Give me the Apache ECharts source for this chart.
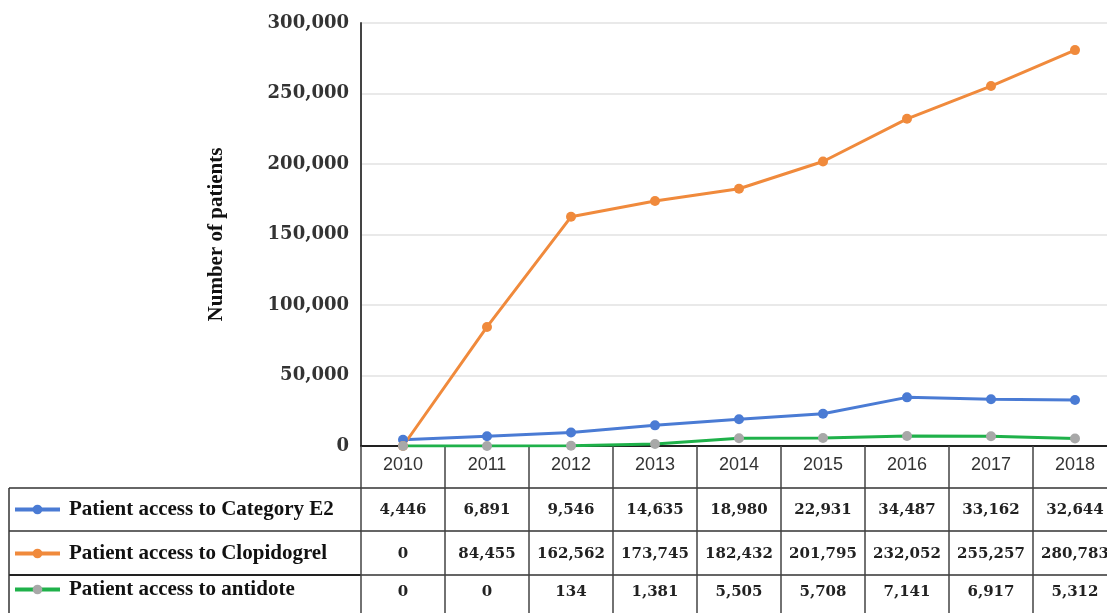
<!DOCTYPE html>
<html>
<head>
<meta charset="utf-8">
<script src="https://cdn.jsdelivr.net/npm/echarts@6/dist/echarts.min.js"></script>
<style>
  html, body { margin: 0; padding: 0; background: #fff; }
  #chart { width: 1107px; height: 613px; }
</style>
</head>
<body>
<div id="chart"></div>
<script>
const years = ['2010', '2011', '2012', '2013', '2014', '2015', '2016', '2017', '2018']
const seriesNames = [
  'Patient access to Category E2',
  'Patient access to Clopidogrel',
  'Patient access to antidote'
]
const categoryE2 = [4446, 6891, 9546, 14635, 18980, 22931, 34487, 33162, 32644]
const clopidogrel = [0, 84455, 162562, 173745, 182432, 201795, 232052, 255257, 280783]
const antidote = [0, 0, 134, 1381, 5505, 5708, 7141, 6917, 5312]
const yTicks = [0, 50000, 100000, 150000, 200000, 250000, 300000]

const fmt = v => v.toLocaleString('en-US')
const serif = 'DejaVu Serif'

// table rows below the plot are extra category axes, offset downwards
const rowAxis = (values, offset, margin) => ({
  type: 'category',
  data: years,
  position: 'bottom',
  offset,
  gridIndex: 0,
  axisLine: { show: true, lineStyle: { color: '#333', width: 1.5 } },
  axisTick: { show: false },
  axisLabel: {
    interval: 0,
    margin,
    formatter: (v, i) => fmt(values[i]),
    fontFamily: serif,
    fontWeight: 'bold',
    fontSize: 15,
    color: '#222'
  }
})

// one legend per table row so they sit in their own cells
const rowLegend = (name, top) => ({
  orient: 'vertical',
  left: 13,
  top,
  padding: 0,
  itemWidth: 45,
  itemHeight: 12,
  selectedMode: false,
  lineStyle: { width: 4 },
  data: [name],
  textStyle: {
    fontFamily: 'Liberation Serif',
    fontWeight: 'bold',
    fontSize: 21,
    color: '#111',
    padding: [0, 0, 0, 4]
  }
})

const chart = echarts.init(document.getElementById('chart'))
chart.setOption({
  animation: false,
  grid: { left: 361, top: 23, width: 756, height: 423, outerBoundsMode: 'none' },
  legend: [
    rowLegend(seriesNames[0], 499),
    rowLegend(seriesNames[1], 543),
    rowLegend(seriesNames[2], 579)
  ],
  xAxis: [
    {
      type: 'category',
      data: years,
      boundaryGap: true,
      axisLine: { show: true, lineStyle: { color: '#222', width: 2 } },
      axisTick: { show: true, interval: 0, length: 167, lineStyle: { color: '#444', width: 1.5 } },
      axisLabel: {
        interval: 0,
        margin: 10,
        fontFamily: 'Liberation Sans',
        fontSize: 18,
        color: '#333'
      }
    },
    rowAxis(categoryE2, 42, 15),
    rowAxis(clopidogrel, 85, 16),
    rowAxis(antidote, 129, 10)
  ],
  yAxis: {
    type: 'value',
    min: yTicks[0],
    max: yTicks[yTicks.length - 1],
    interval: 50000,
    name: 'Number of patients',
    nameLocation: 'middle',
    nameGap: 134,
    nameTextStyle: {
      fontFamily: 'Liberation Serif',
      fontWeight: 'bold',
      fontSize: 21,
      color: '#111'
    },
    axisLine: { show: true, lineStyle: { color: '#444', width: 2 } },
    axisTick: { show: false },
    splitLine: { lineStyle: { color: '#e2e2e2', width: 1.5 } },
    axisLabel: {
      margin: 12,
      formatter: v => fmt(v),
      fontFamily: serif,
      fontWeight: 'bold',
      fontSize: 18,
      color: '#333'
    }
  },
  series: [
    {
      name: seriesNames[0],
      type: 'line',
      data: categoryE2,
      symbol: 'circle',
      symbolSize: 10,
      lineStyle: { color: '#4a7bd4', width: 3 },
      itemStyle: { color: '#4a7bd4' }
    },
    {
      name: seriesNames[1],
      type: 'line',
      data: clopidogrel,
      symbol: 'circle',
      symbolSize: 10,
      lineStyle: { color: '#f08a3c', width: 3 },
      itemStyle: { color: '#f08a3c' }
    },
    {
      name: seriesNames[2],
      type: 'line',
      data: antidote,
      symbol: 'circle',
      symbolSize: 10,
      lineStyle: { color: '#1fb14a', width: 3 },
      itemStyle: { color: '#a8a8a8' }
    }
  ],
  // left part of the data table (legend cell borders)
  graphic: [
    { type: 'line', shape: { x1: 9, y1: 488, x2: 361, y2: 488 }, style: { stroke: '#333', lineWidth: 1.5 } },
    { type: 'line', shape: { x1: 9, y1: 531, x2: 361, y2: 531 }, style: { stroke: '#333', lineWidth: 1.5 } },
    { type: 'line', shape: { x1: 9, y1: 575, x2: 361, y2: 575 }, style: { stroke: '#222', lineWidth: 2 } },
    { type: 'line', shape: { x1: 9, y1: 488, x2: 9, y2: 613 }, style: { stroke: '#333', lineWidth: 1.5 } }
  ]
})
</script>
</body>
</html>
